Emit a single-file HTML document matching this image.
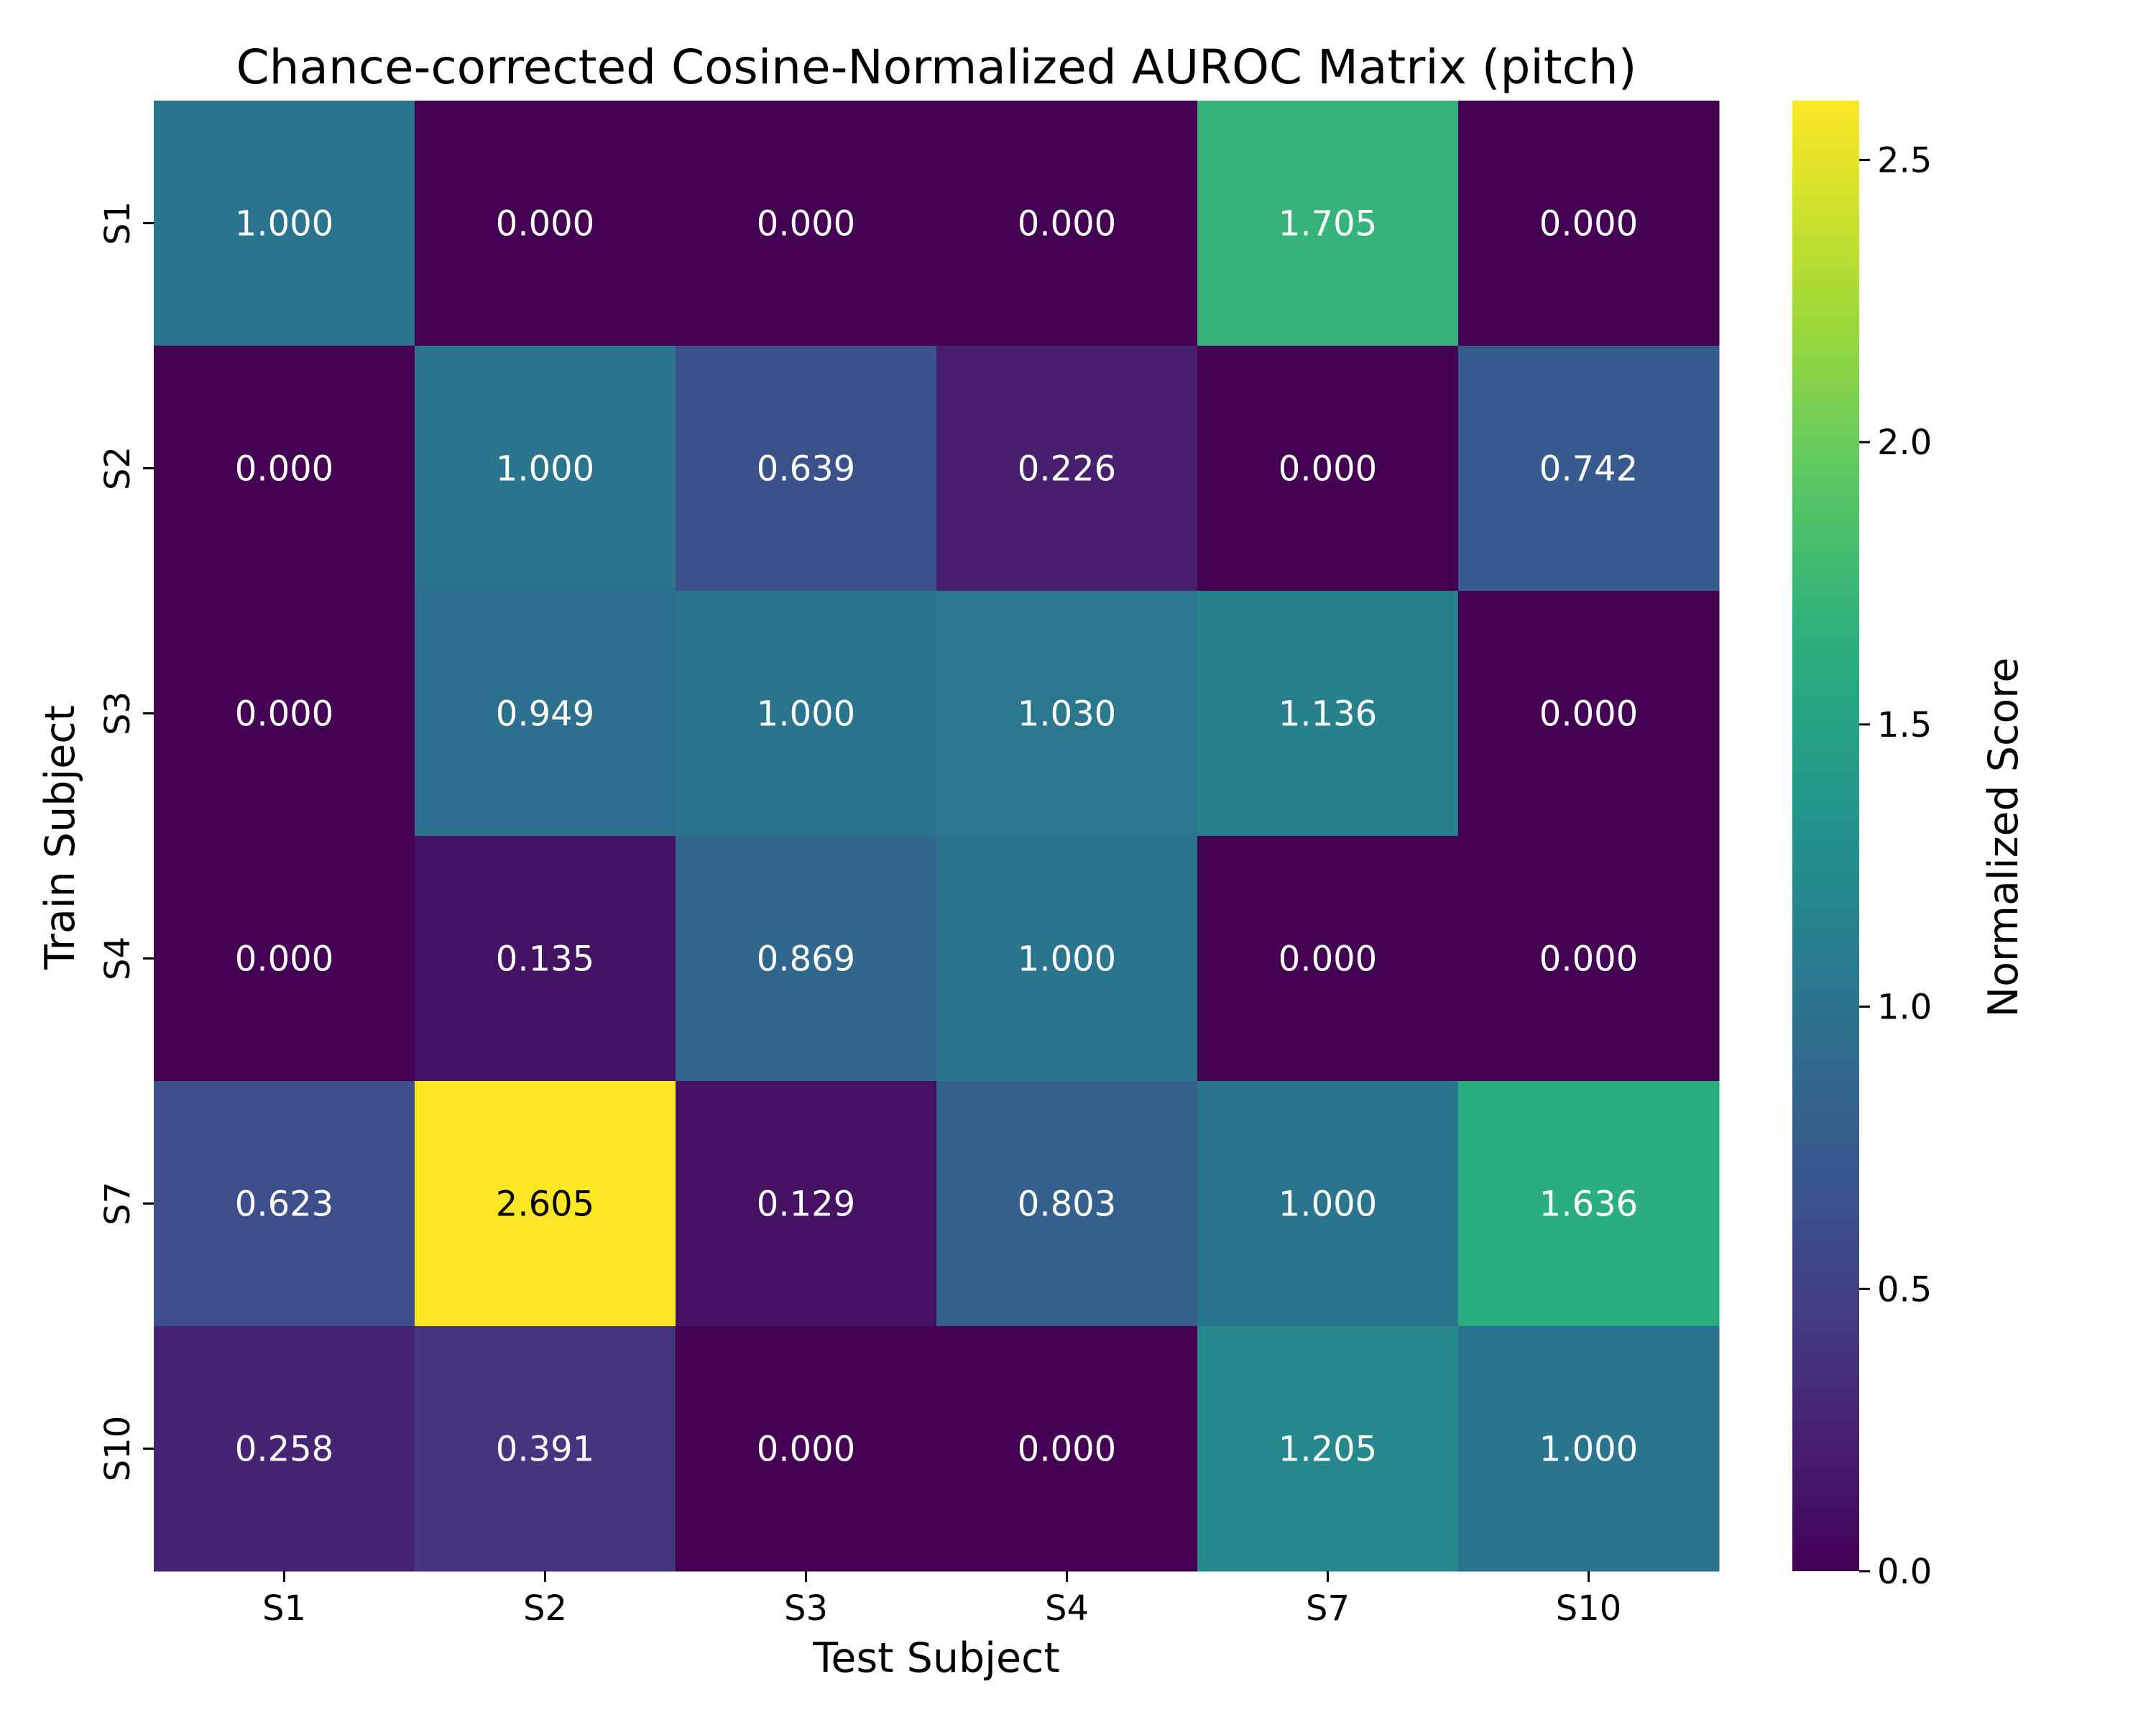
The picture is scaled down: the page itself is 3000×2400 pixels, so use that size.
<!DOCTYPE html>
<html><head><meta charset="utf-8"><style>
html,body{margin:0;padding:0;background:#fff;}
svg{display:block;font-family:"DejaVu Sans","Liberation Sans",sans-serif;}
</style></head><body>
<svg id="chart" width="3000" height="2400" viewBox="0 0 3000 2400">
<text x="1303" y="116" font-size="66" text-anchor="middle">Chance-corrected Cosine-Normalized AUROC Matrix (pitch)</text>
<g id="cells"></g>
<g id="xticks"></g>
<g id="yticks"></g>
<text x="1303" y="2326" font-size="57" text-anchor="middle">Test Subject</text>
<text transform="translate(103,1165) rotate(-90)" font-size="57" text-anchor="middle">Train Subject</text>
<defs><linearGradient id="vir" x1="0" y1="1" x2="0" y2="0"></linearGradient></defs>
<g id="cbar"></g>
<text transform="translate(2807,1165) rotate(-90)" font-size="57" text-anchor="middle">Normalized Score</text>
</svg>
<script>
const cols = ["S1","S2","S3","S4","S7","S10"];
const rows = ["S1","S2","S3","S4","S7","S10"];
const rowS1 = [1.000,0.000,0.000,0.000,1.705,0.000];
const rowS2 = [0.000,1.000,0.639,0.226,0.000,0.742];
const rowS3 = [0.000,0.949,1.000,1.030,1.136,0.000];
const rowS4 = [0.000,0.135,0.869,1.000,0.000,0.000];
const rowS7 = [0.623,2.605,0.129,0.803,1.000,1.636];
const rowS10 = [0.258,0.391,0.000,0.000,1.205,1.000];
const cbarTicks = [0.0,0.5,1.0,1.5,2.0,2.5];
const vmin = 0, vmax = 2.605;

const matrix = [rowS1,rowS2,rowS3,rowS4,rowS7,rowS10];
const NS = "http://www.w3.org/2000/svg";
const L = 214, R = 2392, T = 140, B = 2186;
const cw = (R-L)/cols.length, ch = (B-T)/rows.length;
const xPos = i => L + i*cw;
const yPos = j => T + j*ch;
const stops = ["#440154","#472d7b","#3b528b","#2c728e","#21918c","#28ae80","#5ec962","#addc30","#fde725"];
function hex(h){return [1,3,5].map(k=>parseInt(h.substr(k,2),16));}
function viridis(t){
  t=Math.max(0,Math.min(1,t));
  const p=t*(stops.length-1), i=Math.min(stops.length-2,Math.floor(p)), f=p-i;
  const a=hex(stops[i]), b=hex(stops[i+1]);
  return "rgb("+a.map((v,k)=>Math.round(v+(b[k]-v)*f)).join(",")+")";
}
function mk(tag, attrs, parent){
  const e=document.createElementNS(NS,tag);
  for(const k in attrs) e.setAttribute(k,attrs[k]);
  parent.appendChild(e); return e;
}
const gC=document.getElementById("cells");
matrix.forEach((row,j)=>row.forEach((v,i)=>{
  const t=(v-vmin)/(vmax-vmin);
  const r=mk("rect",{x:xPos(i),y:yPos(j),width:cw+0.5,height:ch+0.5,fill:viridis(t)},gC);
  
  
  const tx=mk("text",{x:xPos(i)+cw/2,y:yPos(j)+ch/2+17,"font-size":48,"text-anchor":"middle",fill:t>0.75?"#000":"#fff"},gC);
  tx.textContent=v.toFixed(3);
  
  
}));
const gx=document.getElementById("xticks");
cols.forEach((c,i)=>{
  const cx=xPos(i)+cw/2;
  mk("line",{x1:cx,x2:cx,y1:B,y2:B+15,stroke:"#000","stroke-width":3},gx);
  const t=mk("text",{x:cx,y:B+68,"font-size":48,"text-anchor":"middle"},gx);
  t.textContent=c;
  
  
});
const gy=document.getElementById("yticks");
rows.forEach((r,j)=>{
  const cy=yPos(j)+ch/2;
  mk("line",{x1:L-15,x2:L,y1:cy,y2:cy,stroke:"#000","stroke-width":3},gy);
  const t=mk("text",{transform:"translate(180,"+cy+") rotate(-90)","font-size":48,"text-anchor":"middle"},gy);
  t.textContent=r;
  
  
});
const grad=document.getElementById("vir");
for(let k=0;k<=20;k++){mk("stop",{offset:(k/20),"stop-color":viridis(k/20)},grad);}
const gb=document.getElementById("cbar");
const CL=2494, CR=2587;
const cy=v=>B-(v-vmin)/(vmax-vmin)*(B-T);
const bar=mk("rect",{x:CL,y:T,width:CR-CL,height:B-T,fill:"url(#vir)"},gb);


cbarTicks.forEach(v=>{
  const y=cy(v);
  mk("line",{x1:CR,x2:CR+15,y1:y,y2:y,stroke:"#000","stroke-width":3},gb);
  const t=mk("text",{x:CR+25,y:y+17,"font-size":48},gb);
  t.textContent=v.toFixed(1);
  
  
});
</script>
</body></html>
